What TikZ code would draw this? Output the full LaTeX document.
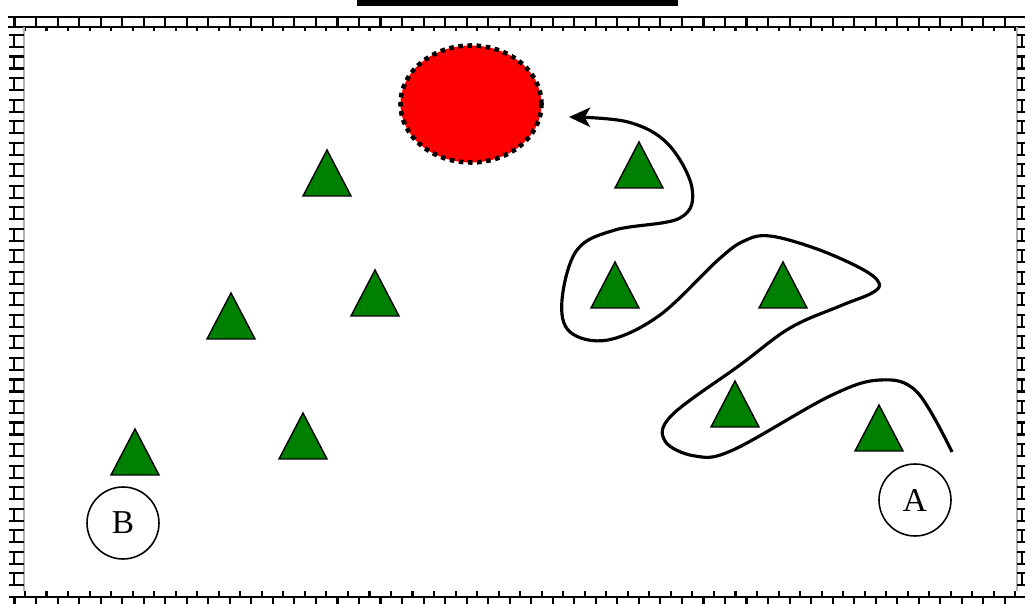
\documentclass[tikz,border=0pt]{standalone}
\usepackage{fontspec}
\setmainfont{Liberation Serif}
\usetikzlibrary{arrows.meta,shapes.geometric}

\tikzset{
  wall/.style={black, line width=1.2pt},
  mortar/.style={gray!60, line width=0.9pt},
  tree/.style={fill=green!50!black, draw=black, line width=0.8pt, line join=miter},
  goalarea/.style={ellipse, fill=red, draw=black, line width=2.6pt,
    dash pattern=on 2.6pt off 2.6pt, minimum width=2.82cm, minimum height=2.34cm, inner sep=0pt},
  station/.style={circle, draw=black, line width=0.9pt, minimum size=1.44cm, inner sep=0pt,
    font=\fontsize{19}{22}\selectfont},
  route/.style={line width=1.8pt, -{Stealth[length=12pt, width=11pt, inset=3pt]}}
}

\begin{document}
\begin{tikzpicture}[x=0.02cm, y=-0.02cm]
\useasboundingbox (0,0) rectangle (1025,604);

% Header bar
\fill[black] (357,0) rectangle (678,6);

% Brick wall round the field
\draw[wall] (8,17) -- (1025,17);
\draw[wall] (8,27) -- (1025,27);
\foreach \k in {0,...,47}
{\draw[wall] ({14.5+21.53*\k},17) -- ({14.5+21.53*\k},27);}
\foreach \k in {0,...,46}
{\draw[wall] ({25+21.53*\k},27) -- ({25+21.53*\k},31);}
\draw[mortar] (24,27) -- (24,591);
\draw[mortar] (1017,27) -- (1017,591);
\foreach \k in {0,...,25}
{\draw[wall] (9,{35+21.53*\k}) -- (24,{35+21.53*\k})
   (14,{35+21.53*\k}) -- (14,{47+21.53*\k})
   (9,{47+21.53*\k}) -- (24,{47+21.53*\k});
 \draw[wall] (1017,{35+21.53*\k}) -- (1025,{35+21.53*\k})
   (1022,{35+21.53*\k}) -- (1022,{47+21.53*\k})
   (1017,{47+21.53*\k}) -- (1025,{47+21.53*\k});}
\draw[wall] (9,597) -- (1025,597);
\foreach \k in {0,...,46}
{\draw[wall] ({25+21.53*\k},591) -- ({25+21.53*\k},597);}
\foreach \k in {0,...,47}
{\draw[wall] ({14.5+21.53*\k},597) -- ({14.5+21.53*\k},604);}

% Goal region
\node[goalarea] (goal) at (471,104) {};

% Obstacles
\foreach \x/\y in {327/150,639/142,375/270,231/293,615/262,783/262,735/381,879/405,303/413,135/429}
{\draw[tree] (\x-24,\y+46) -- (\x,\y) -- (\x+24,\y+46) -- cycle;}

% Start and end stations
\node[station] (A) at (915,500) {A};
\node[station] (B) at (123,523) {B};

% Route from A towards the goal
\coordinate (routestart) at (952,452);
\coordinate (routeend) at (569,117);
\draw[route] plot[smooth, tension=0.6] coordinates {(routestart) (917,392) (880,380)
  (830,396) (733,450) (695,456) (665,441) (672,415) (740,365) (790,328) (840,306)
  (872,293) (879,283) (862,269) (817,249) (770,236) (744,241) (718,260) (660,315)
  (608,340) (570,332) (562,300) (577,250) (615,230) (680,218) (692,188) (668,144)
  (628,122) (routeend)};
\end{tikzpicture}
\end{document}
